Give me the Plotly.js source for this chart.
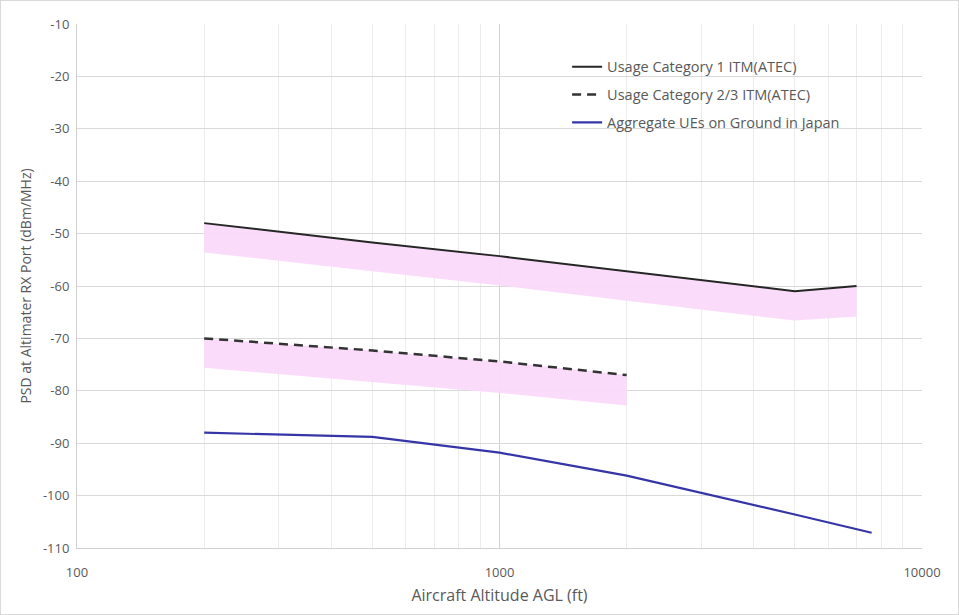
<!DOCTYPE html>
<html>
<head>
<meta charset="utf-8">
<script src="https://cdn.plot.ly/plotly-3.0.1.min.js"></script>
<style>
html,body{margin:0;padding:0;background:#fff;}
#chart{width:959px;height:615px;box-sizing:border-box;border:1px solid #d9d9d9;}
</style>
</head>
<body>
<div id="chart"></div>
<script>
// Altitudes (ft)
var cat1Alt = [200, 500, 1000, 2000, 5000, 7000];
var cat1Psd = [-48, -51.7, -54.3, -57.2, -61, -60];
var cat1BandLow = [-53.6, -57.2, -59.9, -62.8, -66.6, -65.8];

var cat23Alt = [200, 500, 1000, 2000];
var cat23Psd = [-70, -72.3, -74.4, -77];
var cat23BandLow = [-75.6, -78.3, -80.4, -82.8];

var ueAlt = [200, 500, 1000, 2000, 5000, 7600];
var uePsd = [-88, -88.8, -91.8, -96.2, -103.6, -107.1];

var xTicks = [100, 1000, 10000];
var xTickText = ['100', '1000', '10000'];
var yTicks = [-10, -20, -30, -40, -50, -60, -70, -80, -90, -100, -110];
var yTickText = ['-10', '-20', '-30', '-40', '-50', '-60', '-70', '-80', '-90', '-100', '-110'];

var names = ['Usage Category 1 ITM(ATEC)', 'Usage Category 2/3 ITM(ATEC)', 'Aggregate UEs on Ground in Japan'];

var pink = 'rgba(250,218,250,0.95)';
var traces = [
  {x: cat1Alt, y: cat1Psd, mode: 'lines', line: {width: 0}, showlegend: false, hoverinfo: 'skip'},
  {x: cat1Alt, y: cat1BandLow, mode: 'lines', line: {width: 0}, fill: 'tonexty', fillcolor: pink, showlegend: false, hoverinfo: 'skip'},
  {x: cat23Alt, y: cat23Psd, mode: 'lines', line: {width: 0}, showlegend: false, hoverinfo: 'skip'},
  {x: cat23Alt, y: cat23BandLow, mode: 'lines', line: {width: 0}, fill: 'tonexty', fillcolor: pink, showlegend: false, hoverinfo: 'skip'},
  {x: cat1Alt, y: cat1Psd, mode: 'lines', name: names[0], legendgroup: 'a', line: {color: '#262626', width: 2}},
  {x: cat23Alt, y: cat23Psd, mode: 'lines', name: names[1], legendgroup: 'b', line: {color: '#333333', width: 2.5, dash: '9px,6px'}},
  {x: ueAlt, y: uePsd, mode: 'lines', name: names[2], legendgroup: 'c', line: {color: '#3535a8', width: 2.2}}
];

var fontFam = '"Open Sans", "Liberation Sans", sans-serif';
var layout = {
  width: 957, height: 613,
  margin: {l: 76, r: 36, t: 23, b: 66},
  paper_bgcolor: '#fff', plot_bgcolor: '#fff',
  font: {family: fontFam, color: '#595959', size: 13},
  showlegend: true,
  legend: {x: 0.58, y: 0.949, xanchor: 'left', yanchor: 'top', traceorder: 'grouped', tracegroupgap: 6,
           font: {size: 14.5, color: '#595959'}, bgcolor: 'rgba(0,0,0,0)'},
  xaxis: {
    type: 'log', range: [2, 4], tickvals: xTicks, ticktext: xTickText,
    showgrid: true, gridcolor: '#d0d0d0', gridwidth: 1,
    minor: {showgrid: true, gridcolor: '#ececec', dtick: 'D1', ticks: ''},
    showline: true, linecolor: '#d0d0d0', ticks: '', ticklen: 0,
    ticklabelstandoff: 12,
    tickfont: {size: 13, color: '#595959'},
    title: {text: 'Aircraft Altitude AGL (ft)', font: {size: 16, color: '#595959'}, standoff: 10},
    zeroline: false
  },
  yaxis: {
    range: [-110, -10], tickvals: yTicks, ticktext: yTickText,
    showgrid: true, gridcolor: '#d9d9d9', gridwidth: 1,
    showline: true, linecolor: '#d0d0d0', ticks: '',
    ticklabelstandoff: 4,
    tickfont: {size: 13, color: '#595959'},
    title: {text: 'PSD at Altimater RX Port (dBm/MHz)', font: {size: 14, color: '#595959'}, standoff: 8},
    zeroline: false
  }
};
Plotly.newPlot('chart', traces, layout, {displayModeBar: false, staticPlot: true});
</script>
</body>
</html>
